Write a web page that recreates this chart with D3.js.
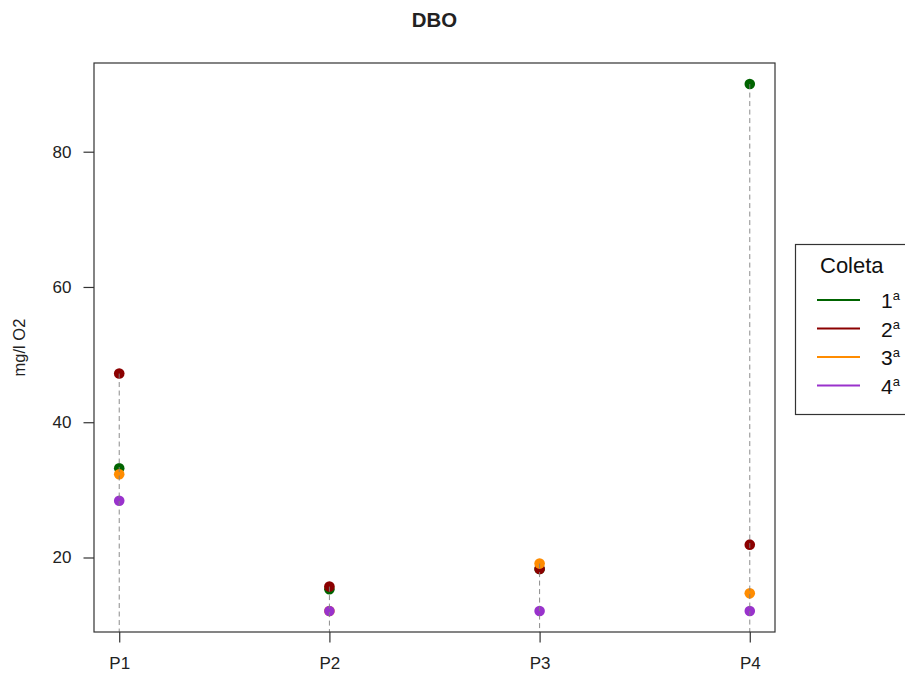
<!DOCTYPE html>
<html>
<head>
<meta charset="utf-8">
<script src="https://cdn.jsdelivr.net/npm/d3@7"></script>
<style>
  html, body { margin: 0; padding: 0; background: #fff; }
  svg { display: block; font-family: "Liberation Sans", Arial, sans-serif; }
</style>
</head>
<body>
<svg id="chart" width="905" height="678"></svg>
<script>
// ---- data ----
const categories = ["P1", "P2", "P3", "P4"];
const seriesNames = ["1", "2", "3", "4"];
const coleta1 = [33.2, 15.3, 18.3, 90.0];
const coleta2 = [47.2, 15.7, 18.3, 21.9];
const coleta3 = [32.3, 12.1, 19.1, 14.7];
const coleta4 = [28.4, 12.1, 12.1, 12.1];
const seriesColors = ["#006400", "#8B0000", "#FF8C00", "#9932CC"];
const yTicks = [20, 40, 60, 80];
const allSeries = [coleta1, coleta2, coleta3, coleta4];

// ---- layout ----
const svg = d3.select("#chart");
const box = { left: 94, right: 775, top: 63, bottom: 632 };
const textColor = "#222";

// R-style 4% extended domains
const allVals = allSeries.flat();
const yMin = d3.min(allVals), yMax = d3.max(allVals);
const yExt = (yMax - yMin) * 0.04;
const y = d3.scaleLinear().domain([yMin - yExt, yMax + yExt]).range([box.bottom, box.top]);
const xExt = (categories.length - 1) * 0.04;
const x = d3.scaleLinear().domain([1 - xExt, categories.length + xExt]).range([box.left, box.right]);

// title
svg.append("text")
  .attr("x", (box.left + box.right) / 2).attr("y", 27)
  .attr("text-anchor", "middle")
  .attr("font-size", 20.4).attr("font-weight", "bold").attr("fill", textColor)
  .text("DBO");

// points
allSeries.forEach((vals, si) => {
  svg.append("g").selectAll("circle")
    .data(vals)
    .join("circle")
    .attr("cx", (d, i) => x(i + 1))
    .attr("cy", d => y(d))
    .attr("r", 5.3)
    .attr("fill", seriesColors[si]);
});

// dashed drop lines (from the highest value down to plot bottom)
svg.append("g").selectAll("line")
  .data(categories)
  .join("line")
  .attr("x1", (d, i) => x(i + 1)).attr("x2", (d, i) => x(i + 1))
  .attr("y1", (d, i) => y(d3.max(allSeries, s => s[i])))
  .attr("y2", box.bottom)
  .attr("stroke", "#808080").attr("stroke-width", 1)
  .attr("stroke-dasharray", "5,3.5")
  .attr("opacity", 0.9);

// plot box
svg.append("rect")
  .attr("x", box.left).attr("y", box.top)
  .attr("width", box.right - box.left).attr("height", box.bottom - box.top)
  .attr("fill", "none").attr("stroke", "#333").attr("stroke-width", 1.2);

// y axis
const yAxis = d3.axisLeft(y).tickValues(yTicks).tickSize(10.5).tickPadding(12).tickFormat(d3.format("d"));
const gy = svg.append("g").attr("transform", `translate(${box.left},0)`).call(yAxis);
gy.select(".domain").remove();
gy.selectAll(".tick line").attr("stroke", "#333").attr("stroke-width", 1.2);
gy.selectAll(".tick text").attr("font-size", 17).attr("fill", textColor).attr("font-family", "Liberation Sans, Arial, sans-serif");

// x axis
const xAxis = d3.axisBottom(x).tickValues(categories.map((c, i) => i + 1)).tickSize(10.5).tickPadding(14)
  .tickFormat((d) => categories[d - 1]);
const gx = svg.append("g").attr("transform", `translate(0,${box.bottom})`).call(xAxis);
gx.select(".domain").remove();
gx.selectAll(".tick line").attr("stroke", "#333").attr("stroke-width", 1.2);
gx.selectAll(".tick text").attr("font-size", 17).attr("fill", textColor).attr("font-family", "Liberation Sans, Arial, sans-serif");

// y label
svg.append("text")
  .attr("transform", `translate(25,${(box.top + box.bottom) / 2}) rotate(-90)`)
  .attr("text-anchor", "middle")
  .attr("font-size", 16.5).attr("fill", textColor)
  .text("mg/l O2");

// legend
const lg = svg.append("g");
lg.append("rect")
  .attr("x", 795.5).attr("y", 244.5).attr("width", 130).attr("height", 170)
  .attr("fill", "#fff").attr("stroke", "#333").attr("stroke-width", 1.2);
lg.append("text")
  .attr("x", 820).attr("y", 273)
  .attr("font-size", 22).attr("fill", "#111")
  .text("Coleta");
const legY = d3.scaleLinear().domain([0, 3]).range([300, 385.5]);
seriesNames.forEach((name, i) => {
  lg.append("line")
    .attr("x1", 817).attr("x2", 860)
    .attr("y1", legY(i)).attr("y2", legY(i))
    .attr("stroke", seriesColors[i]).attr("stroke-width", 2);
  const t = lg.append("text")
    .attr("x", 881).attr("y", legY(i) + 8)
    .attr("font-size", 21).attr("fill", "#111");
  t.append("tspan").text(name);
  t.append("tspan").attr("font-size", 13).attr("dy", -8).text("a");
});
</script>
</body>
</html>
